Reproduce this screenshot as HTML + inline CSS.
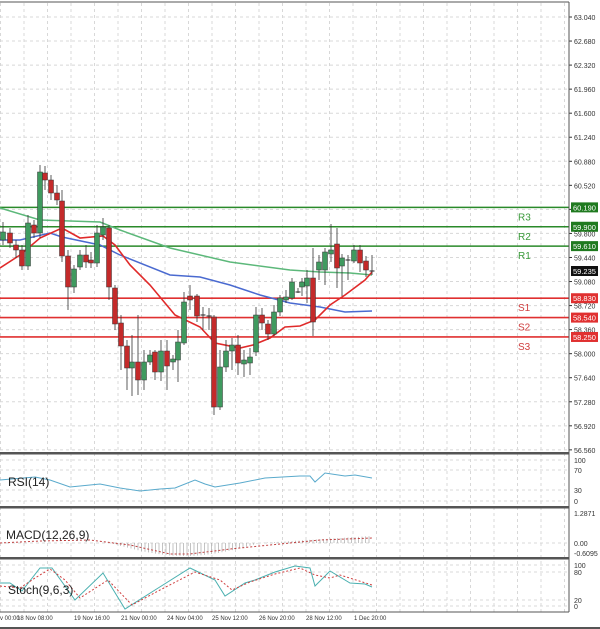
<!DOCTYPE html>
<html><head><meta charset="utf-8"><style>
body{margin:0;background:#fff;}
svg{display:block;font-family:"Liberation Sans",sans-serif;}
</style></head><body>
<svg id="s" width="600" height="629" xmlns="http://www.w3.org/2000/svg"></svg>
<script>
const s=document.getElementById('s');let h='';
const Y=p=>17+(63.04-p)*66.8;
for(let x=0.5;x<569;x+=23.5){h+=`<line x1="${x}" y1="3" x2="${x}" y2="612" stroke="#d8d8d8" stroke-dasharray="3,3"/>`;}
const labs=['63.040','62.680','62.320','61.960','61.600','61.240','60.880','60.520','60.160','59.800','59.440','59.080','58.720','58.360','58.000','57.640','57.280','56.920','56.560'];
labs.forEach(l=>{const y=Y(+l);h+=`<line x1="0" y1="${y}" x2="569" y2="${y}" stroke="#d8d8d8" stroke-dasharray="3,3"/><line x1="569" y1="${y}" x2="572" y2="${y}" stroke="#333"/>`;if(l!='60.160')h+=`<text x="574" y="${y+3}" font-size="7" fill="#333">${l}</text>`;});
[[460,'100'],[470,'70'],[490,'30'],[501,'0']].forEach(a=>{h+=`<line x1="0" y1="${a[0]}" x2="569" y2="${a[0]}" stroke="#d8d8d8" stroke-dasharray="3,3"/><text x="574" y="${a[0]+3}" font-size="7" fill="#333">${a[1]}</text>`});
[[513,'1.2871'],[543,'0.00'],[553,'-0.6095']].forEach(a=>{h+=`<text x="574" y="${a[0]+3}" font-size="7" fill="#333">${a[1]}</text>`});
h+=`<line x1="0" y1="543" x2="569" y2="543" stroke="#d8d8d8" stroke-dasharray="3,3"/>`;
[[565,'100'],[572,'80'],[600,'20'],[606,'0']].forEach(a=>{h+=`<line x1="0" y1="${a[0]}" x2="569" y2="${a[0]}" stroke="#d8d8d8" stroke-dasharray="3,3"/><text x="574" y="${a[0]+3}" font-size="7" fill="#333">${a[1]}</text>`});
const lv=[[60.19,'#2a8a2a','#1f7a1f','R3'],[59.9,'#2a8a2a','#1f7a1f','R2'],[59.61,'#2a8a2a','#1f7a1f','R1'],[58.83,'#e03030','#e03030','S1'],[58.54,'#e03030','#e03030','S2'],[58.25,'#e03030','#e03030','S3']];
lv.forEach(a=>{const y=Y(a[0]);h+=`<line x1="0" y1="${y}" x2="569" y2="${y}" stroke="${a[1]}" stroke-width="1.6"/><rect x="571" y="${y-5}" width="27" height="10" fill="${a[2]}"/><text x="573" y="${y+3}" font-size="7.5" fill="#fff">${a[0].toFixed(3)}</text><text x="518" y="${y+13}" font-size="10" fill="${a[1]=='#e03030'?'#d04040':'#3a9a3a'}">${a[3]}</text>`;});
const pl=(pts,c,w,d)=>`<polyline fill="none" stroke="${c}" stroke-width="${w}" ${d?'stroke-dasharray="'+d+'"':''} points="${pts.map(p=>p.join(',')).join(' ')}"/>`;
h+=pl([[0,208],[40,220],[100,222],[120,230],[170,248],[230,262],[290,270],[320,272],[350,273],[372,275]],'#5cb87a',1.5);
h+=pl([[0,240],[20,240],[50,233],[62,237],[100,245],[120,255],[170,275],[200,277],[230,285],[260,295],[290,303],[320,307],[345,312],[372,311]],'#4a6ad0',1.5);
h+=pl([[0,268],[20,255],[40,238],[62,228],[80,238],[103,236],[115,245],[130,265],[150,285],[175,315],[200,327],[215,343],[240,348],[253,345],[270,338],[285,327],[300,326],[315,320],[330,305],[345,295],[365,280],[372,272]],'#e02a2a',1.6);
const c=[[3,240,232,222,245],[10,233,243,228,248],[16,245,250,240,258],[22,250,266,245,270],[28,266,223,215,270],[34,225,233,220,238],[40,233,172,165,238],[45,173,180,166,190],[51,180,193,175,200],[57,193,200,185,205],[62,201,256,190,262],[68,256,287,250,310],[74,287,269,265,293],[80,267,255,250,270],[86,255,262,245,268],[91,260,263,252,268],[97,263,233,225,267],[103,235,227,218,240],[109,228,287,225,300],[115,288,324,285,330],[121,323,346,315,370],[127,346,368,340,390],[132,368,362,335,396],[138,362,380,315,395],[144,380,362,350,390],[150,362,355,350,365],[155,352,372,350,380],[161,372,351,340,381],[167,351,366,340,390],[173,362,359,355,370],[178,360,342,330,382],[184,343,302,292,345],[190,296,300,285,310],[197,296,316,294,322],[203,315,316,307,330],[209,316,316,308,330],[214,317,407,315,415],[220,407,367,350,410],[226,367,351,340,372],[232,351,345,338,370],[238,345,363,335,375],[244,364,360,350,377],[250,363,357,348,375],[256,352,315,307,356],[262,315,323,308,330],[268,324,334,320,340],[274,334,312,305,336],[280,312,298,295,316],[286,300,297,290,303],[292,298,282,278,300],[298,292,292,288,293],[302,287,282,278,296],[307,286,278,270,303],[313,278,322,248,336],[319,270,262,255,280],[325,270,252,248,285],[331,254,250,224,262],[337,244,268,228,288],[342,266,258,254,296],[348,260,260,255,280],[354,261,250,245,263],[360,250,263,245,272],[366,261,270,256,277],[372,271,271,255,275]];
c.forEach(k=>{const up=k[2]<k[1];const t=Math.min(k[1],k[2]),b=Math.max(k[1],k[2]);h+=`<line x1="${k[0]}" y1="${k[3]}" x2="${k[0]}" y2="${k[4]}" stroke="#333" stroke-width="0.8"/>`;if(b-t<1.5)h+=`<line x1="${k[0]-2.5}" y1="${t}" x2="${k[0]+2.5}" y2="${t}" stroke="#222"/>`;else h+=`<rect x="${k[0]-2.5}" y="${t}" width="5" height="${b-t}" fill="${up?'#3f9a5f':'#c42a2a'}" stroke="#333" stroke-width="0.5"/>`;});
h+=`<rect x="571" y="266" width="27" height="10" fill="#111"/><text x="573" y="274" font-size="7.5" fill="#fff">59.235</text>`;
h+=pl([[0,480],[35,477],[50,480],[70,487],[100,484],[120,488],[140,491],[160,489],[175,488],[195,480],[205,484],[215,487],[240,483],[265,478],[300,476],[310,476],[315,482],[325,473],[345,476],[355,475],[372,478]],'#5aaacc',1);
h+=`<text x="8" y="486" font-size="12" fill="#222">RSI(14)</text>`;
for(let x=110;x<=372;x+=3.5){const d=x<260?Math.sin((x-110)/150*Math.PI)*13:-(x-260)/112*7;h+=`<line x1="${x}" y1="543" x2="${x}" y2="${543+d}" stroke="#aaa" stroke-width="0.7"/>`;}
h+=pl([[0,543],[40,541],[90,540],[130,545],[170,554],[190,554],[230,549],[270,545],[320,540],[372,538]],'#c04040',1,'2,2');
h+=`<text x="6" y="539" font-size="12" fill="#222">MACD(12,26,9)</text>`;
h+=pl([[0,583],[10,583],[22,591],[40,568],[52,568],[75,600],[103,573],[125,609],[155,590],[190,568],[215,580],[225,596],[245,583],[255,580],[275,572],[295,566],[310,568],[315,586],[330,571],[350,583],[365,584],[372,587]],'#4ab0b0',1);
h+=pl([[0,586],[20,588],[35,578],[50,569],[65,580],[80,598],[108,580],[132,605],[160,590],[195,572],[220,580],[232,590],[250,582],[275,574],[300,568],[315,575],[330,578],[340,575],[372,585]],'#d04040',1,'2,2');
h+=`<text x="8" y="594" font-size="12" fill="#222">Stoch(9,6,3)</text>`;
h+=`<line x1="569" y1="2" x2="569" y2="612" stroke="#555"/><line x1="0" y1="2" x2="569" y2="2" stroke="#555"/>`;
[453,507,558].forEach(y=>{h+=`<rect x="0" y="${y-1}" width="569" height="2.5" fill="#555"/>`});
h+=`<line x1="0" y1="612" x2="569" y2="612" stroke="#555"/><rect x="0" y="627" width="600" height="2" fill="#555"/>`;
[['v 00:00',0],['18 Nov 08:00',17],['19 Nov 16:00',74],['21 Nov 00:00',121],['24 Nov 04:00',167],['25 Nov 12:00',212],['26 Nov 20:00',259],['28 Nov 12:00',306],['1 Dec 20:00',354]].forEach(a=>{h+=`<text x="${a[1]}" y="620" font-size="6" fill="#333">${a[0]}</text>`});
s.innerHTML=h;
</script>
</body></html>
